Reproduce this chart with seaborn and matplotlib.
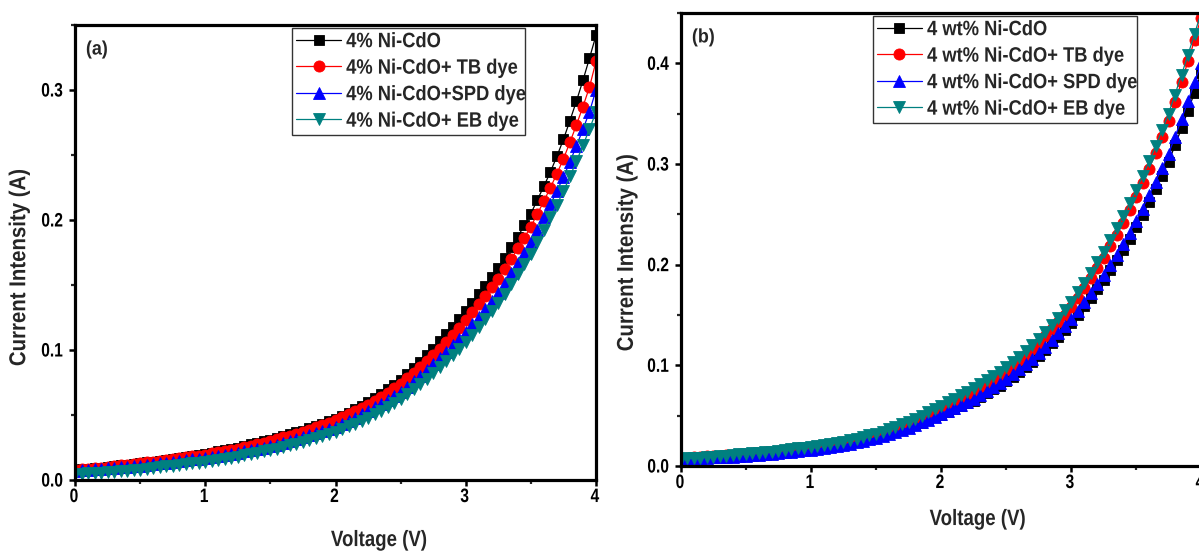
import numpy as np
import pandas as pd
import matplotlib
matplotlib.use("Agg")
import matplotlib.pyplot as plt
import seaborn as sns
from matplotlib.patheffects import AbstractPathEffect
from matplotlib.transforms import Affine2D
from matplotlib.ticker import MultipleLocator, FuncFormatter

# Applied bias, 0 to 4 V in 0.05 V steps
voltage = np.round(np.arange(81) * 0.05, 2)

# ---- Panel (a): 4% Ni-CdO with and without dyes (current in A) ----
a_labels = ["4% Ni-CdO", "4% Ni-CdO+ TB dye", "4% Ni-CdO+SPD dye", "4% Ni-CdO+ EB dye"]

a_pure = [
    0.0080, 0.0084, 0.0088, 0.0092, 0.0096, 0.0100, 0.0106, 0.0112, 0.0118, 0.0124,
    0.0130, 0.0136, 0.0142, 0.0148, 0.0154, 0.0160, 0.0168, 0.0176, 0.0184, 0.0192,
    0.0200, 0.0210, 0.0220, 0.0230, 0.0240, 0.0250, 0.0262, 0.0274, 0.0286, 0.0298,
    0.0310, 0.0324, 0.0338, 0.0352, 0.0366, 0.0380, 0.0397, 0.0414, 0.0432, 0.0451,
    0.0470, 0.0494, 0.0519, 0.0545, 0.0572, 0.0600, 0.0632, 0.0664, 0.0698, 0.0733,
    0.0770, 0.0815, 0.0861, 0.0908, 0.0958, 0.1010, 0.1066, 0.1122, 0.1179, 0.1239,
    0.1300, 0.1363, 0.1427, 0.1493, 0.1561, 0.1630, 0.1710, 0.1790, 0.1872, 0.1960,
    0.2050, 0.2155, 0.2260, 0.2370, 0.2490, 0.2620, 0.2765, 0.2915, 0.3075, 0.3245,
    0.3420,
]
a_tb = [
    0.0080, 0.0084, 0.0088, 0.0092, 0.0096, 0.0100, 0.0106, 0.0112, 0.0118, 0.0124,
    0.0130, 0.0136, 0.0142, 0.0148, 0.0154, 0.0160, 0.0167, 0.0174, 0.0181, 0.0188,
    0.0195, 0.0204, 0.0213, 0.0222, 0.0231, 0.0240, 0.0251, 0.0263, 0.0275, 0.0287,
    0.0300, 0.0313, 0.0327, 0.0341, 0.0355, 0.0370, 0.0387, 0.0404, 0.0422, 0.0441,
    0.0460, 0.0483, 0.0506, 0.0530, 0.0555, 0.0580, 0.0610, 0.0640, 0.0672, 0.0705,
    0.0740, 0.0781, 0.0823, 0.0867, 0.0913, 0.0960, 0.1011, 0.1063, 0.1117, 0.1173,
    0.1230, 0.1291, 0.1353, 0.1417, 0.1483, 0.1550, 0.1626, 0.1703, 0.1782, 0.1865,
    0.1950, 0.2047, 0.2146, 0.2249, 0.2357, 0.2470, 0.2598, 0.2732, 0.2873, 0.3022,
    0.3220,
]
a_spd = [
    0.0070, 0.0074, 0.0078, 0.0082, 0.0086, 0.0090, 0.0094, 0.0098, 0.0102, 0.0106,
    0.0110, 0.0116, 0.0122, 0.0128, 0.0134, 0.0140, 0.0146, 0.0152, 0.0158, 0.0164,
    0.0170, 0.0178, 0.0186, 0.0194, 0.0202, 0.0210, 0.0220, 0.0230, 0.0240, 0.0250,
    0.0260, 0.0273, 0.0287, 0.0301, 0.0315, 0.0330, 0.0345, 0.0361, 0.0377, 0.0393,
    0.0410, 0.0432, 0.0455, 0.0479, 0.0504, 0.0530, 0.0558, 0.0587, 0.0617, 0.0648,
    0.0680, 0.0718, 0.0758, 0.0800, 0.0844, 0.0890, 0.0937, 0.0985, 0.1035, 0.1087,
    0.1140, 0.1197, 0.1255, 0.1315, 0.1377, 0.1440, 0.1514, 0.1590, 0.1668, 0.1748,
    0.1830, 0.1924, 0.2020, 0.2120, 0.2224, 0.2330, 0.2448, 0.2570, 0.2698, 0.2832,
    0.3000,
]
a_eb = [
    0.0045, 0.0048, 0.0051, 0.0054, 0.0057, 0.0060, 0.0064, 0.0068, 0.0072, 0.0076,
    0.0080, 0.0086, 0.0092, 0.0098, 0.0104, 0.0110, 0.0116, 0.0122, 0.0128, 0.0134,
    0.0140, 0.0148, 0.0156, 0.0164, 0.0172, 0.0180, 0.0190, 0.0200, 0.0210, 0.0220,
    0.0230, 0.0242, 0.0254, 0.0266, 0.0278, 0.0290, 0.0305, 0.0320, 0.0336, 0.0353,
    0.0370, 0.0391, 0.0412, 0.0434, 0.0457, 0.0480, 0.0507, 0.0534, 0.0562, 0.0591,
    0.0620, 0.0658, 0.0697, 0.0737, 0.0778, 0.0820, 0.0866, 0.0913, 0.0961, 0.1010,
    0.1060, 0.1118, 0.1177, 0.1237, 0.1298, 0.1360, 0.1433, 0.1507, 0.1583, 0.1661,
    0.1740, 0.1831, 0.1924, 0.2020, 0.2119, 0.2220, 0.2335, 0.2452, 0.2574, 0.2700,
    0.2830,
]

# ---- Panel (b): 4 wt% Ni-CdO with and without dyes (current in A) ----
b_labels = ["4 wt% Ni-CdO", "4 wt% Ni-CdO+ TB dye", "4 wt% Ni-CdO+ SPD dye", "4 wt% Ni-CdO+ EB dye"]

b_pure = [
    0.0080, 0.0082, 0.0084, 0.0086, 0.0088, 0.0090, 0.0092, 0.0094, 0.0096, 0.0098,
    0.0100, 0.0106, 0.0112, 0.0118, 0.0124, 0.0130, 0.0136, 0.0142, 0.0148, 0.0154,
    0.0160, 0.0169, 0.0179, 0.0189, 0.0199, 0.0210, 0.0223, 0.0237, 0.0251, 0.0265,
    0.0280, 0.0298, 0.0317, 0.0337, 0.0358, 0.0380, 0.0405, 0.0430, 0.0456, 0.0483,
    0.0510, 0.0537, 0.0565, 0.0593, 0.0621, 0.0650, 0.0686, 0.0722, 0.0760, 0.0799,
    0.0840, 0.0887, 0.0935, 0.0985, 0.1037, 0.1090, 0.1153, 0.1218, 0.1284, 0.1351,
    0.1420, 0.1502, 0.1586, 0.1672, 0.1760, 0.1850, 0.1946, 0.2045, 0.2147, 0.2257,
    0.2370, 0.2493, 0.2620, 0.2750, 0.2883, 0.3020, 0.3185, 0.3355, 0.3530, 0.3710,
    0.3900,
]
b_tb = [
    0.0080, 0.0084, 0.0088, 0.0092, 0.0096, 0.0100, 0.0104, 0.0108, 0.0112, 0.0116,
    0.0120, 0.0126, 0.0132, 0.0138, 0.0144, 0.0150, 0.0158, 0.0166, 0.0174, 0.0182,
    0.0190, 0.0199, 0.0209, 0.0219, 0.0229, 0.0240, 0.0253, 0.0267, 0.0281, 0.0295,
    0.0310, 0.0330, 0.0351, 0.0373, 0.0396, 0.0420, 0.0448, 0.0477, 0.0507, 0.0538,
    0.0570, 0.0603, 0.0636, 0.0670, 0.0705, 0.0740, 0.0780, 0.0821, 0.0863, 0.0906,
    0.0950, 0.1001, 0.1053, 0.1107, 0.1163, 0.1220, 0.1287, 0.1356, 0.1428, 0.1503,
    0.1580, 0.1671, 0.1765, 0.1863, 0.1965, 0.2070, 0.2181, 0.2295, 0.2414, 0.2540,
    0.2670, 0.2810, 0.2955, 0.3105, 0.3265, 0.3430, 0.3620, 0.3815, 0.4020, 0.4230,
    0.4450,
]
b_spd = [
    0.0070, 0.0073, 0.0076, 0.0079, 0.0082, 0.0085, 0.0088, 0.0091, 0.0094, 0.0097,
    0.0100, 0.0106, 0.0112, 0.0118, 0.0124, 0.0130, 0.0136, 0.0142, 0.0148, 0.0154,
    0.0160, 0.0169, 0.0179, 0.0189, 0.0199, 0.0210, 0.0223, 0.0237, 0.0251, 0.0265,
    0.0280, 0.0298, 0.0317, 0.0337, 0.0358, 0.0380, 0.0406, 0.0433, 0.0461, 0.0490,
    0.0520, 0.0549, 0.0578, 0.0608, 0.0639, 0.0670, 0.0706, 0.0743, 0.0781, 0.0820,
    0.0860, 0.0909, 0.0959, 0.1011, 0.1065, 0.1120, 0.1185, 0.1251, 0.1320, 0.1389,
    0.1460, 0.1544, 0.1630, 0.1718, 0.1808, 0.1900, 0.1999, 0.2100, 0.2206, 0.2316,
    0.2430, 0.2557, 0.2688, 0.2823, 0.2960, 0.3100, 0.3270, 0.3445, 0.3625, 0.3810,
    0.4000,
]
b_eb = [
    0.0070, 0.0075, 0.0079, 0.0084, 0.0088, 0.0093, 0.0098, 0.0104, 0.0109, 0.0115,
    0.0120, 0.0126, 0.0132, 0.0138, 0.0144, 0.0150, 0.0158, 0.0166, 0.0174, 0.0182,
    0.0190, 0.0199, 0.0209, 0.0219, 0.0229, 0.0240, 0.0255, 0.0270, 0.0286, 0.0303,
    0.0320, 0.0342, 0.0365, 0.0389, 0.0414, 0.0440, 0.0470, 0.0501, 0.0533, 0.0566,
    0.0600, 0.0633, 0.0667, 0.0701, 0.0735, 0.0770, 0.0810, 0.0851, 0.0893, 0.0936,
    0.0980, 0.1033, 0.1087, 0.1143, 0.1201, 0.1260, 0.1329, 0.1400, 0.1474, 0.1551,
    0.1630, 0.1724, 0.1821, 0.1921, 0.2024, 0.2130, 0.2243, 0.2360, 0.2481, 0.2608,
    0.2740, 0.2880, 0.3025, 0.3175, 0.3335, 0.3500, 0.3690, 0.3885, 0.4085, 0.4290,
    0.4500,
]

series_colors = ["#000000", "#ff0000", "#0000ff", "#008080"]
series_markers = ["s", "o", "^", "v"]
marker_sizes = [6.8, 8.0, 8.0, 8.0]


class Condensed(AbstractPathEffect):
    """Draw text glyphs narrowed horizontally (along the text direction)."""

    def __init__(self, sx):
        super().__init__()
        self.sx = sx

    def draw_path(self, renderer, gc, tpath, affine, rgbFace=None):
        renderer.draw_path(gc, tpath, Affine2D().scale(self.sx, 1.0) + affine, rgbFace)


sns.set_style("ticks")
plt.rcParams["font.family"] = ["Liberation Sans", "DejaVu Sans"]
plt.rcParams["font.weight"] = "bold"
plt.rcParams["axes.labelweight"] = "bold"

W, H = 1199, 552
fig = plt.figure(figsize=(W / 100, H / 100), dpi=100)


def px_axes(left, right, top, bottom):
    return fig.add_axes([left / W, 1 - bottom / H, (right - left) / W, (bottom - top) / H])


def draw_panel(ax, labels, series, ymax, tag, legend_box, xlabel_xy, ylabel_xy):
    df = pd.concat(
        [pd.DataFrame({"Voltage": voltage, "Current": vals, "Sample": lab})
         for lab, vals in zip(labels, series)],
        ignore_index=True,
    )
    for lab, col, mk, ms in zip(labels, series_colors, series_markers, marker_sizes):
        sub = df[df["Sample"] == lab]
        sns.lineplot(data=sub, x="Voltage", y="Current", ax=ax, color=col, marker=mk,
                     markersize=ms, markeredgecolor=col, markeredgewidth=0.6,
                     linewidth=0.9, label=lab, estimator=None, sort=True)

    ax.set_xlim(0, 4)
    ax.set_ylim(0, ymax)
    ax.xaxis.set_major_locator(MultipleLocator(1))
    ax.xaxis.set_minor_locator(MultipleLocator(0.5))
    ax.yaxis.set_major_locator(MultipleLocator(0.1))
    ax.yaxis.set_minor_locator(MultipleLocator(0.05))
    ax.xaxis.set_major_formatter(FuncFormatter(lambda v, p: f"{v:.0f}"))
    ax.yaxis.set_major_formatter(FuncFormatter(lambda v, p: f"{v:.1f}"))

    for sp in ax.spines.values():
        sp.set_visible(True)
        sp.set_linewidth(2.3)
        sp.set_color("black")
    ax.tick_params(which="major", direction="out", length=4.0, width=1.8,
                   labelsize=14, colors="black")
    ax.tick_params(axis="y", which="major", pad=0.8)
    ax.tick_params(axis="x", which="major", pad=2.5)
    ax.tick_params(which="minor", direction="out", length=2.8, width=1.6)

    ax.set_xlabel("Voltage (V)", fontsize=16, fontweight="bold")
    ax.set_ylabel("Current Intensity (A)", fontsize=16.5, fontweight="bold")
    ax.xaxis.set_label_coords(*xlabel_xy)
    ax.yaxis.set_label_coords(*ylabel_xy)
    ax.xaxis.label.set_path_effects([Condensed(0.84)])
    ax.yaxis.label.set_path_effects([Condensed(0.89)])

    t = ax.text(0.021, 0.945, tag, transform=ax.transAxes, fontsize=14, fontweight="bold",
                ha="left", va="center")
    t.set_path_effects([Condensed(0.92)])

    leg = ax.legend(loc="upper left", bbox_to_anchor=legend_box, mode="expand",
                    borderaxespad=0, frameon=True, fancybox=False, framealpha=1,
                    edgecolor="#333333", handlelength=2.15, handletextpad=0.25,
                    labelspacing=0.36, borderpad=0.2,
                    prop={"weight": "bold", "size": 15})
    leg.get_frame().set_linewidth(1.0)
    for txt in leg.get_texts():
        txt.set_path_effects([Condensed(0.88)])


ax_a = px_axes(75, 596, 25, 480)
draw_panel(ax_a, a_labels, [a_pure, a_tb, a_spd, a_eb], 0.35, "(a)",
           legend_box=(0.4165, 0.0, 0.447, 0.9934),
           xlabel_xy=(0.601, -0.11), ylabel_xy=(-0.086, 0.493))

ax_b = px_axes(681, 1201, 13, 466)
draw_panel(ax_b, b_labels, [b_pure, b_tb, b_spd, b_eb], 0.45, "(b)",
           legend_box=(0.369, 0.0, 0.5077, 0.9934),
           xlabel_xy=(0.588, -0.095), ylabel_xy=(-0.083, 0.497))

# Narrow the tick numbers once the tick artists exist
fig.canvas.draw()
for ax in (ax_a, ax_b):
    for lab in ax.get_xticklabels() + ax.get_yticklabels():
        lab.set_path_effects([Condensed(0.8)])

fig.savefig("out.png", dpi=100, facecolor="white")
